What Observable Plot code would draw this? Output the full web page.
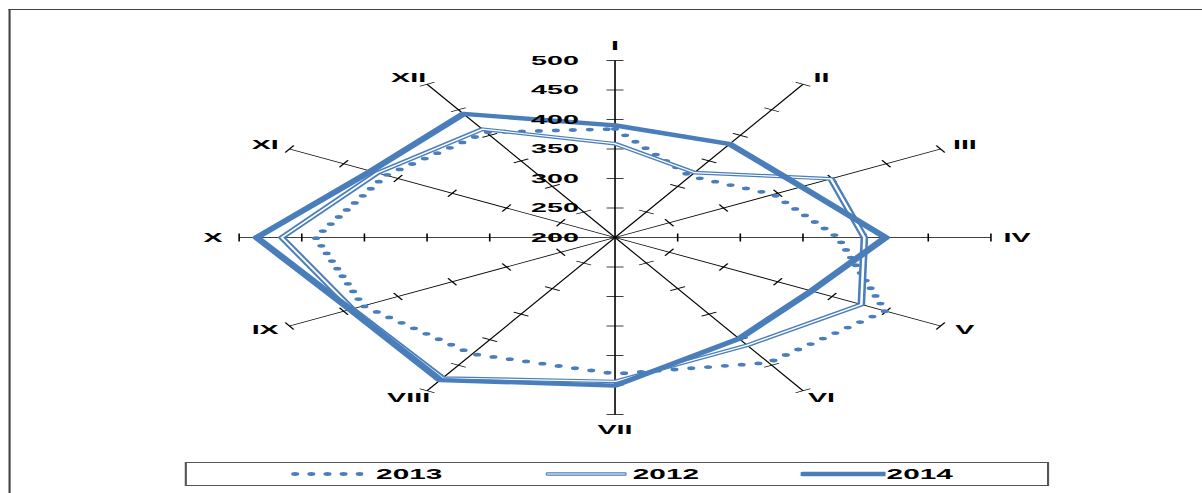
<!DOCTYPE html>
<html><head><meta charset="utf-8">
<script src="https://cdn.jsdelivr.net/npm/d3@7"></script>
<script src="https://cdn.jsdelivr.net/npm/@observablehq/plot@0.6"></script>
<style>
html,body{margin:0;padding:0;background:#fff;overflow:hidden;width:1202px;height:493px;}
#stage{position:absolute;left:0;top:0;width:566px;height:493px;transform:scaleX(2.1237);transform-origin:0 0;font-family:"Liberation Sans",Arial,sans-serif;}
#frame{position:absolute;left:3.8px;top:9px;width:700px;height:600px;border-left:1px solid #444;border-top:1.3px solid #444;}
#chart{position:absolute;left:0;top:0;}
#legend{position:absolute;left:86.6px;top:462px;width:407px;height:24px;border:1px solid #555;box-sizing:border-box;background:#fff;}
.item{position:absolute;top:0;height:100%;display:flex;align-items:center;font-weight:bold;font-size:14px;color:#000;}
.item svg{display:block;}
</style></head>
<body>
<div id="stage">
  <div id="frame"></div>
  <div id="chart"></div>
  <div id="legend"></div>
</div>
<script>
// ---- data ----
const months = ["I","II","III","IV","V","VI","VII","VIII","IX","X","XI","XII"];
const v2013 = [384, 320, 346, 378, 449, 445, 431, 428, 432, 439, 411, 406];
const v2012 = [359, 327, 399, 399, 427, 411, 444, 475, 442, 466, 419, 412];
const v2014 = [390, 383, 372, 416, 381, 398, 451, 479, 444, 486, 425, 442];
const tickValues = [200, 250, 300, 350, 400, 450, 500];
const seriesNames = ["2013", "2012", "2014"];

// ---- helpers ----
const BLUE = "#4a7ebb";
const rMin = 200, rMax = 500;
const norm = v => (v - rMin) / (rMax - rMin);
const ang = i => i * 2 * Math.PI / months.length;
const series = vals => vals.map((v, i) => ({month: months[i], value: v,
  x: norm(v) * Math.sin(ang(i)), y: norm(v) * Math.cos(ang(i))}));

const R = 177, CX = 289.1, CY = 237;
const spokes = months.map((m, i) => ({m, x2: Math.sin(ang(i)), y2: Math.cos(ang(i))}));
const h = 4 / R;
const tickMarks = months.flatMap((m, i) => tickValues.slice(1).map(t => {
  const r = norm(t), s = Math.sin(ang(i)), c = Math.cos(ang(i));
  return {x1: r * s - h * c, y1: r * c + h * s, x2: r * s + h * c, y2: r * c - h * s};
}));
const monthLabels = months.map((m, i) => {
  const s = Math.sin(ang(i)), c = Math.cos(ang(i));
  const dx = 12.3 * Math.sign(s) * Math.sqrt(Math.abs(s)) * (Math.abs(s) < 1e-6 ? 0 : 1);
  const dy = Math.abs(c) > 0.99 ? 15 * c : 8 * c;
  return {m, x: s + dx / R, y: c + dy / R};
});

const txt = {fontWeight: "bold", fontSize: 13.5, fill: "#000", fontFamily: "Liberation Sans, Arial, sans-serif"};

const chart = Plot.plot({
  width: 566, height: 455, margin: 0,
  x: {domain: [-1, 1], range: [CX - R, CX + R], axis: null},
  y: {domain: [-1, 1], range: [CY + R, CY - R], axis: null},
  style: {background: "transparent", overflow: "visible"},
  marks: [
    Plot.link(spokes, {x1: d => 0, y1: d => 0, x2: "x2", y2: "y2", stroke: "#000", strokeWidth: 0.75}),
    Plot.link(tickMarks, {x1: "x1", y1: "y1", x2: "x2", y2: "y2", stroke: "#000", strokeWidth: 0.75}),
    Plot.line(series(v2013), {x: "x", y: "y", curve: "linear-closed", stroke: BLUE, strokeWidth: 3.8,
      strokeDasharray: "0 8", strokeLinecap: "round"}),
    Plot.line(series(v2012), {x: "x", y: "y", curve: "linear-closed", stroke: BLUE, strokeWidth: 3.6, strokeLinejoin: "round"}),
    Plot.line(series(v2012), {x: "x", y: "y", curve: "linear-closed", stroke: "#fff", strokeWidth: 1.2, strokeLinejoin: "round"}),
    Plot.line(series(v2014), {x: "x", y: "y", curve: "linear-closed", stroke: BLUE, strokeWidth: 4.3, strokeLinejoin: "round"}),
    Plot.text(tickValues, {x: d => 0, y: d => norm(d), text: d => String(d), textAnchor: "end", dx: -17, ...txt}),
    Plot.text(monthLabels, {x: "x", y: "y", text: "m", textAnchor: "middle", ...txt})
  ]
});
document.getElementById("chart").appendChild(chart);

// ---- legend ----
const legend = document.getElementById("legend");
const items = [
  {name: seriesNames[0], left: 49, len: 34, gap: 6.5, kind: "dot"},
  {name: seriesNames[1], left: 169.4, len: 38, gap: 3, kind: "double"},
  {name: seriesNames[2], left: 289.4, len: 40, gap: 0.5, kind: "solid"}
];
for (const it of items) {
  const div = document.createElement("div");
  div.className = "item";
  div.style.left = it.left + "px";
  const svg = d3.create("svg").attr("width", it.len).attr("height", 10);
  if (it.kind === "dot") {
    svg.append("line").attr("x1", 2).attr("x2", it.len - 1).attr("y1", 5).attr("y2", 5)
      .attr("stroke", BLUE).attr("stroke-width", 3.8).attr("stroke-dasharray", "0 7.6").attr("stroke-linecap", "round");
  } else if (it.kind === "double") {
    svg.append("line").attr("x1", 1).attr("x2", it.len - 1).attr("y1", 5).attr("y2", 5)
      .attr("stroke", BLUE).attr("stroke-width", 3.6).attr("stroke-linecap", "round");
    svg.append("line").attr("x1", 1).attr("x2", it.len - 1).attr("y1", 5).attr("y2", 5)
      .attr("stroke", "#fff").attr("stroke-width", 1.2).attr("stroke-linecap", "round");
  } else {
    svg.append("line").attr("x1", 1).attr("x2", it.len).attr("y1", 5).attr("y2", 5)
      .attr("stroke", BLUE).attr("stroke-width", 4.3).attr("stroke-linecap", "round");
  }
  div.appendChild(svg.node());
  const span = document.createElement("span");
  span.textContent = it.name;
  span.style.marginLeft = it.gap + "px";
  div.appendChild(span);
  legend.appendChild(div);
}
</script>
</body></html>
